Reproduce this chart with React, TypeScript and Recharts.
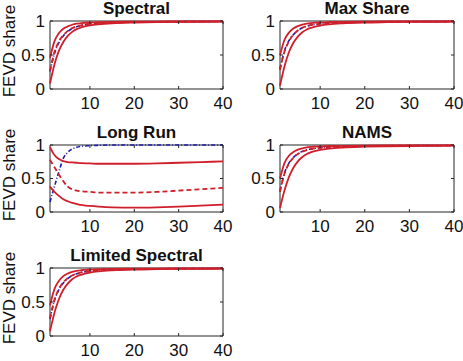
import { LineChart, Line, XAxis, YAxis, ReferenceArea } from "recharts";

const HORIZON = [1, 2, 3, 4, 5, 6, 7, 8, 10, 12, 15, 20, 25, 30, 35, 40];
const X_TICKS = [10, 20, 30, 40];
const Y_TICKS = [0, 0.5, 1];

// Spectral
const SPEC_LO = [0.08, 0.36, 0.56, 0.69, 0.78, 0.84, 0.88, 0.905, 0.935, 0.952, 0.967, 0.978, 0.983, 0.987, 0.989, 0.99];
const SPEC_HI = [0.46, 0.7, 0.82, 0.885, 0.92, 0.945, 0.96, 0.968, 0.978, 0.983, 0.987, 0.99, 0.992, 0.993, 0.994, 0.995];
const SPEC_MED = [0.27, 0.54, 0.7, 0.79, 0.855, 0.895, 0.92, 0.937, 0.957, 0.967, 0.977, 0.984, 0.988, 0.99, 0.991, 0.992];
const SPEC_TRUE = [0.26, 0.52, 0.68, 0.78, 0.845, 0.888, 0.915, 0.933, 0.955, 0.966, 0.976, 0.983, 0.987, 0.99, 0.991, 0.992];

// Max Share
const MAX_LO = [0.05, 0.33, 0.54, 0.68, 0.77, 0.835, 0.875, 0.9, 0.932, 0.95, 0.965, 0.977, 0.982, 0.986, 0.988, 0.99];
const MAX_HI = [0.5, 0.72, 0.83, 0.89, 0.925, 0.948, 0.962, 0.97, 0.98, 0.985, 0.988, 0.991, 0.993, 0.994, 0.995, 0.995];
const MAX_MED = [0.28, 0.55, 0.7, 0.8, 0.86, 0.9, 0.925, 0.94, 0.958, 0.968, 0.977, 0.985, 0.988, 0.99, 0.991, 0.992];
const MAX_TRUE = [0.3, 0.56, 0.71, 0.8, 0.86, 0.9, 0.924, 0.94, 0.958, 0.968, 0.977, 0.985, 0.988, 0.99, 0.991, 0.992];

// Long Run
const LR_LO = [0.38, 0.3, 0.24, 0.19, 0.16, 0.135, 0.12, 0.105, 0.09, 0.08, 0.07, 0.065, 0.07, 0.08, 0.095, 0.11];
const LR_HI = [0.97, 0.85, 0.79, 0.76, 0.745, 0.74, 0.735, 0.73, 0.725, 0.72, 0.72, 0.72, 0.725, 0.735, 0.745, 0.755];
const LR_MED = [0.78, 0.67, 0.56, 0.46, 0.38, 0.34, 0.32, 0.31, 0.3, 0.29, 0.29, 0.29, 0.3, 0.32, 0.34, 0.36];
const LR_TRUE = [0.15, 0.38, 0.6, 0.8, 0.89, 0.94, 0.965, 0.98, 0.99, 0.995, 1, 1, 1, 1, 1, 1];

// NAMS
const NAMS_LO = [0.06, 0.32, 0.52, 0.66, 0.755, 0.82, 0.865, 0.895, 0.928, 0.947, 0.963, 0.975, 0.981, 0.985, 0.988, 0.99];
const NAMS_HI = [0.5, 0.73, 0.84, 0.895, 0.93, 0.95, 0.963, 0.971, 0.98, 0.985, 0.988, 0.991, 0.993, 0.994, 0.995, 0.995];
const NAMS_MED = [0.3, 0.57, 0.72, 0.81, 0.865, 0.9, 0.925, 0.94, 0.958, 0.968, 0.977, 0.984, 0.988, 0.99, 0.991, 0.992];
const NAMS_TRUE = [0.32, 0.58, 0.73, 0.815, 0.87, 0.905, 0.928, 0.942, 0.96, 0.97, 0.978, 0.985, 0.988, 0.99, 0.991, 0.992];

// Limited Spectral
const LIM_LO = [0.07, 0.34, 0.54, 0.68, 0.77, 0.835, 0.875, 0.9, 0.932, 0.95, 0.965, 0.977, 0.982, 0.986, 0.988, 0.99];
const LIM_HI = [0.45, 0.69, 0.81, 0.88, 0.918, 0.943, 0.958, 0.967, 0.977, 0.983, 0.987, 0.99, 0.992, 0.993, 0.994, 0.995];
const LIM_MED = [0.26, 0.53, 0.69, 0.79, 0.85, 0.89, 0.918, 0.935, 0.955, 0.966, 0.976, 0.983, 0.987, 0.99, 0.991, 0.992];
const LIM_TRUE = [0.25, 0.52, 0.68, 0.78, 0.845, 0.887, 0.915, 0.933, 0.954, 0.965, 0.975, 0.983, 0.987, 0.99, 0.991, 0.992];

const RED = "#cf1f2b";
const BLUE = "#1c1cb0";
const AXIS = "#262626";
const FONT = "'Liberation Sans', Arial, sans-serif";

const LEFT_PAD = 44;
const TOP_PAD = 12;
const RIGHT_PAD = 14;
const BOTTOM_PAD = 26;

function buildRows(lo: number[], hi: number[], med: number[], tr: number[]) {
  return HORIZON.map((h, i) => ({ h, lo: lo[i], hi: hi[i], med: med[i], tr: tr[i] }));
}

type PanelProps = {
  title: string;
  x: number;
  y: number;
  w: number;
  h: number;
  rows: ReturnType<typeof buildRows>;
  ylabel?: boolean;
};

function Panel({ title, x, y, w, h, rows, ylabel }: PanelProps) {
  const XTick = (props: any) => {
    const { x: tx, y: ty, payload } = props;
    return (
      <g>
        <line x1={tx} x2={tx} y1={ty} y2={ty - 3} stroke={AXIS} />
        <line x1={tx} x2={tx} y1={ty - h} y2={ty - h + 3} stroke={AXIS} />
        <text x={tx} y={ty + 14} textAnchor="middle" dominantBaseline="central" fontSize={17} fill="#111" fontFamily={FONT}>
          {payload.value}
        </text>
      </g>
    );
  };
  const YTick = (props: any) => {
    const { x: tx, y: ty, payload } = props;
    return (
      <g>
        <line x1={tx} x2={tx + 3} y1={ty} y2={ty} stroke={AXIS} />
        <line x1={tx + w} x2={tx + w - 3} y1={ty} y2={ty} stroke={AXIS} />
        <text x={tx - 5} y={ty} textAnchor="end" dominantBaseline="central" fontSize={17} fill="#111" fontFamily={FONT}>
          {payload.value}
        </text>
      </g>
    );
  };

  return (
    <>
      <div
        style={{
          position: "absolute",
          left: x,
          top: y - 21,
          width: w,
          textAlign: "center",
          fontFamily: FONT,
          fontWeight: "bold",
          fontSize: 17,
          lineHeight: "18px",
          color: "#111",
        }}
      >
        {title}
      </div>
      {ylabel && (
        <div
          style={{
            position: "absolute",
            left: 10 - 50,
            top: y + h / 2 - 4 - 9,
            width: 100,
            textAlign: "center",
            fontFamily: FONT,
            fontSize: 17,
            lineHeight: "18px",
            color: "#111",
            whiteSpace: "nowrap",
            transform: "rotate(-90deg)",
          }}
        >
          FEVD share
        </div>
      )}
      <div style={{ position: "absolute", left: x - LEFT_PAD, top: y - TOP_PAD }}>
        <LineChart
          width={w + LEFT_PAD + RIGHT_PAD}
          height={h + TOP_PAD + BOTTOM_PAD}
          data={rows}
          margin={{ top: TOP_PAD, right: RIGHT_PAD, left: 0, bottom: 0 }}
        >
          <XAxis
            dataKey="h"
            type="number"
            domain={[1, 40]}
            ticks={X_TICKS}
            height={BOTTOM_PAD}
            tickSize={0}
            tickMargin={0}
            axisLine={false}
            tickLine={false}
            tick={XTick}
            interval={0}
          />
          <YAxis
            type="number"
            domain={[0, 1]}
            ticks={Y_TICKS}
            width={LEFT_PAD}
            tickSize={0}
            tickMargin={0}
            axisLine={false}
            tickLine={false}
            tick={YTick}
            interval={0}
          />
          <ReferenceArea x1={1} x2={40} y1={0} y2={1} fill="none" stroke={AXIS} strokeWidth={1} ifOverflow="visible" />
          <Line dataKey="tr" type="monotone" stroke={BLUE} strokeWidth={1.6} strokeDasharray="4 2 1 2" dot={false} isAnimationActive={false} />
          <Line dataKey="med" type="monotone" stroke={RED} strokeWidth={1.8} strokeDasharray="5 3" dot={false} isAnimationActive={false} />
          <Line dataKey="lo" type="monotone" stroke={RED} strokeWidth={1.8} dot={false} isAnimationActive={false} />
          <Line dataKey="hi" type="monotone" stroke={RED} strokeWidth={1.8} dot={false} isAnimationActive={false} />
        </LineChart>
      </div>
    </>
  );
}

export default function App() {
  return (
    <div style={{ position: "absolute", left: 0, top: 0, width: 463, height: 361, background: "#fff", overflow: "hidden" }}>
      <Panel title="Spectral" x={50} y={21} w={173} h={68} rows={buildRows(SPEC_LO, SPEC_HI, SPEC_MED, SPEC_TRUE)} ylabel />
      <Panel title="Max Share" x={280} y={21} w={174} h={68} rows={buildRows(MAX_LO, MAX_HI, MAX_MED, MAX_TRUE)} />
      <Panel title="Long Run" x={50} y={145} w={173} h={67} rows={buildRows(LR_LO, LR_HI, LR_MED, LR_TRUE)} ylabel />
      <Panel title="NAMS" x={280} y={145} w={174} h={67} rows={buildRows(NAMS_LO, NAMS_HI, NAMS_MED, NAMS_TRUE)} />
      <Panel title="Limited Spectral" x={50} y={268} w={173} h={68} rows={buildRows(LIM_LO, LIM_HI, LIM_MED, LIM_TRUE)} ylabel />
    </div>
  );
}
